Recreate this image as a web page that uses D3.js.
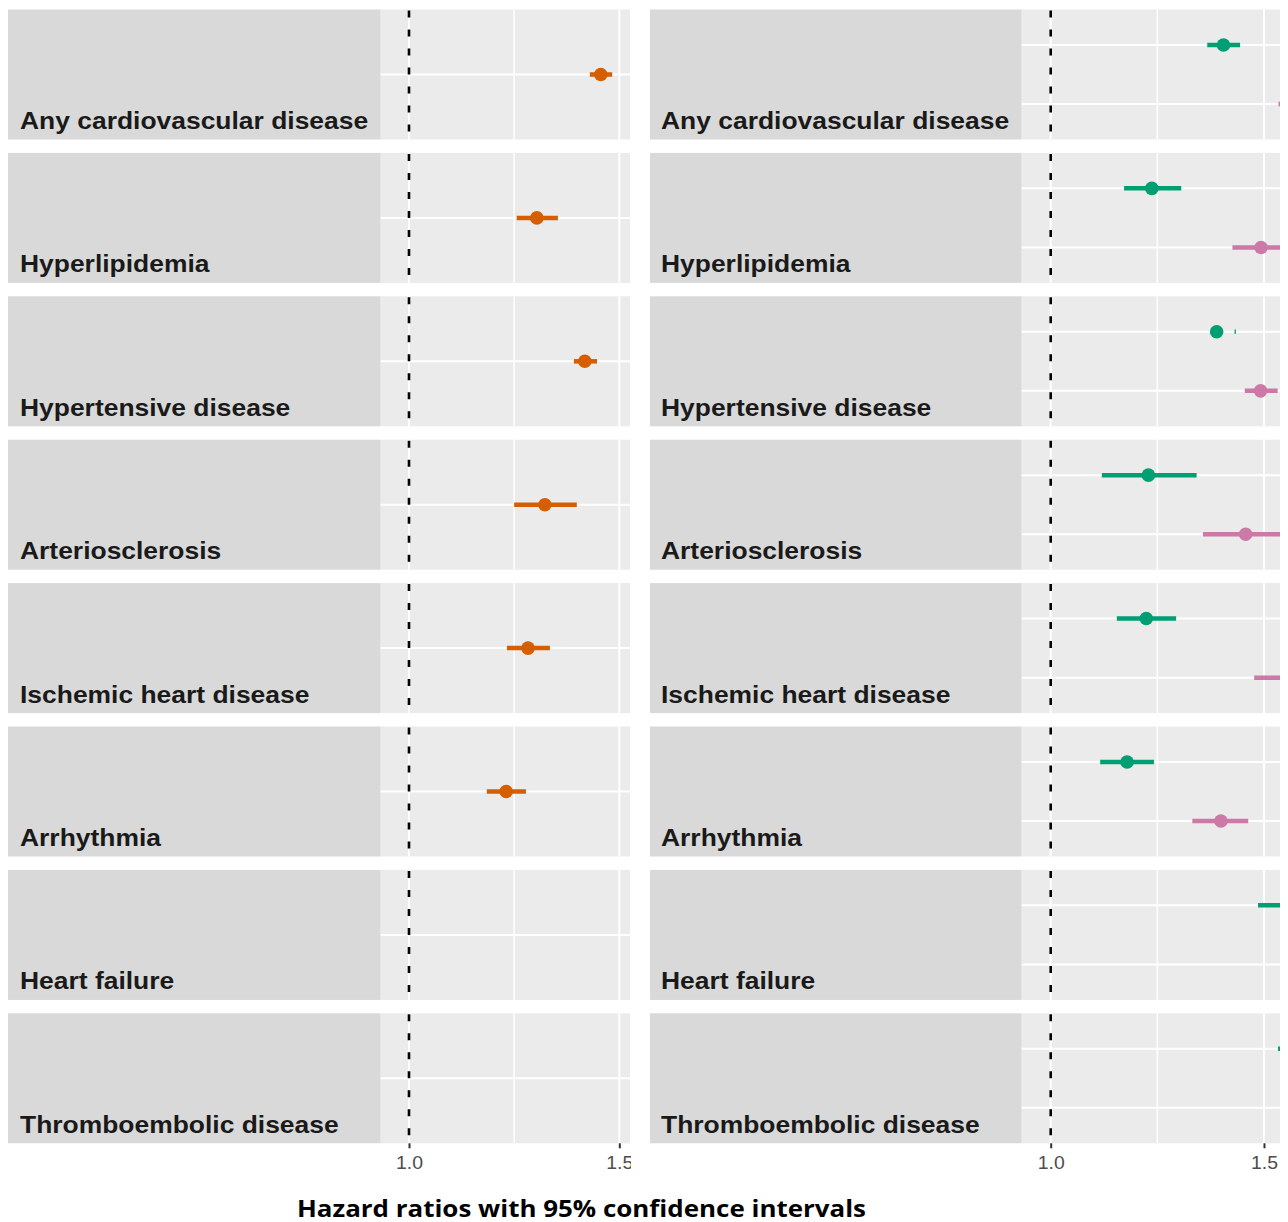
<!DOCTYPE html>
<html>
<head>
<meta charset="utf-8">
<script src="https://cdn.jsdelivr.net/npm/d3@7"></script>
<style>
  html, body { margin: 0; padding: 0; background: #ffffff; }
  svg { display: block; }
</style>
</head>
<body>
<script>
// ---------- data ----------
const categories = [
  "Any cardiovascular disease",
  "Hyperlipidemia",
  "Hypertensive disease",
  "Arteriosclerosis",
  "Ischemic heart disease",
  "Arrhythmia",
  "Heart failure",
  "Thromboembolic disease"
];
const tickValues = [1.0, 1.5];
const axisTitle = "Hazard ratios with 95% confidence intervals";

// left panel (single estimate per outcome)
const leftHR    = [1.456, 1.304, 1.418, 1.323, 1.283, 1.231, 1.680, 1.750];
const leftLower = [1.430, 1.256, 1.392, 1.250, 1.233, 1.185, 1.600, 1.630];
const leftUpper = [1.483, 1.354, 1.447, 1.399, 1.335, 1.278, 1.760, 1.880];

// right panel, group 1 (green, upper row)
const greenHR    = [1.405, 1.237, 1.389, 1.229, 1.224, 1.179, 1.560, 1.620];
const greenLower = [1.367, 1.172, 1.431, 1.120, 1.155, 1.116, 1.486, 1.533];
const greenUpper = [1.444, 1.306, 1.434, 1.342, 1.294, 1.242, 1.640, 1.720];

// right panel, group 2 (pink, lower row)
const pinkHR    = [1.620, 1.493, 1.492, 1.457, 1.560, 1.399, 1.800, 1.850];
const pinkLower = [1.534, 1.426, 1.455, 1.357, 1.477, 1.332, 1.700, 1.720];
const pinkUpper = [1.710, 1.570, 1.532, 1.580, 1.650, 1.463, 1.900, 1.990];

const groupColors = { left: "#D55E00", green: "#009E73", pink: "#CC79A7" };

// ---------- layout ----------
const W = 1288, H = 1222;
const svg = d3.select("body").append("svg").attr("width", W).attr("height", H);
const defs = svg.append("defs");

const rowBand = d3.scaleBand().domain(categories).range([9.5, 1143.3]).paddingInner(0.0934).paddingOuter(0);

const panels = [
  {
    id: "L", stripX0: 8, plotX0: 380.7, plotX1: 630, clipX1: 631, labelX: 20,
    x: d3.scaleLinear().domain([1.0, 1.5]).range([409, 619.3]),
    series: [{ key: "left", hr: leftHR, lo: leftLower, hi: leftUpper, color: groupColors.left }]
  },
  {
    id: "R", stripX0: 650, plotX0: 1021.7, plotX1: 1300, clipX1: 1280, labelX: 661,
    x: d3.scaleLinear().domain([1.0, 1.5]).range([1050.7, 1264]),
    series: [
      { key: "green", hr: greenHR, lo: greenLower, hi: greenUpper, color: groupColors.green },
      { key: "pink",  hr: pinkHR,  lo: pinkLower,  hi: pinkUpper,  color: groupColors.pink }
    ]
  }
];

panels.forEach(p => {
  defs.append("clipPath").attr("id", "clip" + p.id)
    .append("rect").attr("x", 0).attr("y", 0).attr("width", p.clipX1).attr("height", H);
  defs.append("clipPath").attr("id", "clipPlot" + p.id)
    .append("rect").attr("x", p.plotX0).attr("y", 0).attr("width", Math.min(p.plotX1, p.clipX1) - p.plotX0).attr("height", H);

  const g = svg.append("g").attr("clip-path", `url(#clip${p.id})`);
  const levels = p.series.map(s => s.key);
  const bw = rowBand.bandwidth();

  categories.forEach((cat, i) => {
    const top = rowBand(cat);
    const yLevel = d3.scalePoint().domain(levels).range([top, top + bw]).padding(0.6);

    // strip (label box)
    g.append("rect").attr("x", p.stripX0).attr("y", top)
      .attr("width", p.plotX0 - p.stripX0).attr("height", bw).attr("fill", "#d9d9d9");
    // panel background
    g.append("rect").attr("x", p.plotX0).attr("y", top)
      .attr("width", p.plotX1 - p.plotX0).attr("height", bw).attr("fill", "#ebebeb");

    // vertical grid lines (major + minor)
    const vg = [0.75, 1.0, 1.25, 1.5, 1.75].filter(v => {
      const xx = p.x(v); return xx > p.plotX0 && xx < p.plotX1;
    });
    g.selectAll(null).data(vg).enter().append("line")
      .attr("x1", d => p.x(d)).attr("x2", d => p.x(d))
      .attr("y1", top).attr("y2", top + bw)
      .attr("stroke", "#ffffff").attr("stroke-width", d => (d === 1.25 ? 1.5 : 2));

    // horizontal grid lines
    g.selectAll(null).data(levels).enter().append("line")
      .attr("x1", p.plotX0).attr("x2", p.plotX1)
      .attr("y1", d => yLevel(d)).attr("y2", d => yLevel(d))
      .attr("stroke", "#ffffff").attr("stroke-width", 2);

    // reference line at HR = 1
    g.append("line")
      .attr("x1", p.x(1)).attr("x2", p.x(1))
      .attr("y1", top).attr("y2", top + bw)
      .attr("stroke", "#000000").attr("stroke-width", 2.6)
      .attr("stroke-dasharray", "7,12").attr("stroke-dashoffset", -1);

    // estimates
    const pg = g.append("g").attr("clip-path", `url(#clipPlot${p.id})`);
    p.series.forEach(s => {
      const y = yLevel(s.key);
      pg.append("line")
        .attr("x1", p.x(s.lo[i])).attr("x2", p.x(s.hi[i]))
        .attr("y1", y).attr("y2", y)
        .attr("stroke", s.color).attr("stroke-width", 4.5);
      pg.append("circle")
        .attr("cx", p.x(s.hr[i])).attr("cy", y).attr("r", 6.8)
        .attr("fill", s.color);
    });

    // facet label
    g.append("text")
      .attr("transform", `translate(${p.labelX},${top + bw - 10.5}) scale(1.125,1)`)
      .attr("font-family", "'Liberation Sans', Arial, sans-serif")
      .attr("font-weight", "bold").attr("font-size", 23.5)
      .attr("fill", "#1a1a1a")
      .text(cat);
  });

  // x axis
  const bottom = rowBand(categories[categories.length - 1]) + rowBand.bandwidth();
  const ax = g.append("g").attr("transform", `translate(0,${bottom})`)
    .call(d3.axisBottom(p.x).tickValues(tickValues).tickFormat(d3.format(".1f")).tickSize(5).tickPadding(8));
  ax.select(".domain").remove();
  ax.selectAll(".tick line").attr("stroke", "#333333").attr("stroke-width", 2);
  ax.selectAll(".tick text")
    .attr("font-family", "'Liberation Sans', Arial, sans-serif")
    .attr("font-size", 18).attr("fill", "#4d4d4d")
    .attr("transform", "scale(1.08,1)")
    .attr("x", 0);
});

// axis title
svg.append("text")
  .attr("x", 297).attr("y", 1216.5)
  .attr("font-family", "'Open Sans', Lato, sans-serif")
  .attr("font-weight", "bold").attr("font-size", 23.5)
  .attr("fill", "#000000")
  .attr("textLength", 569).attr("lengthAdjust", "spacingAndGlyphs")
  .text(axisTitle);
</script>
</body>
</html>
